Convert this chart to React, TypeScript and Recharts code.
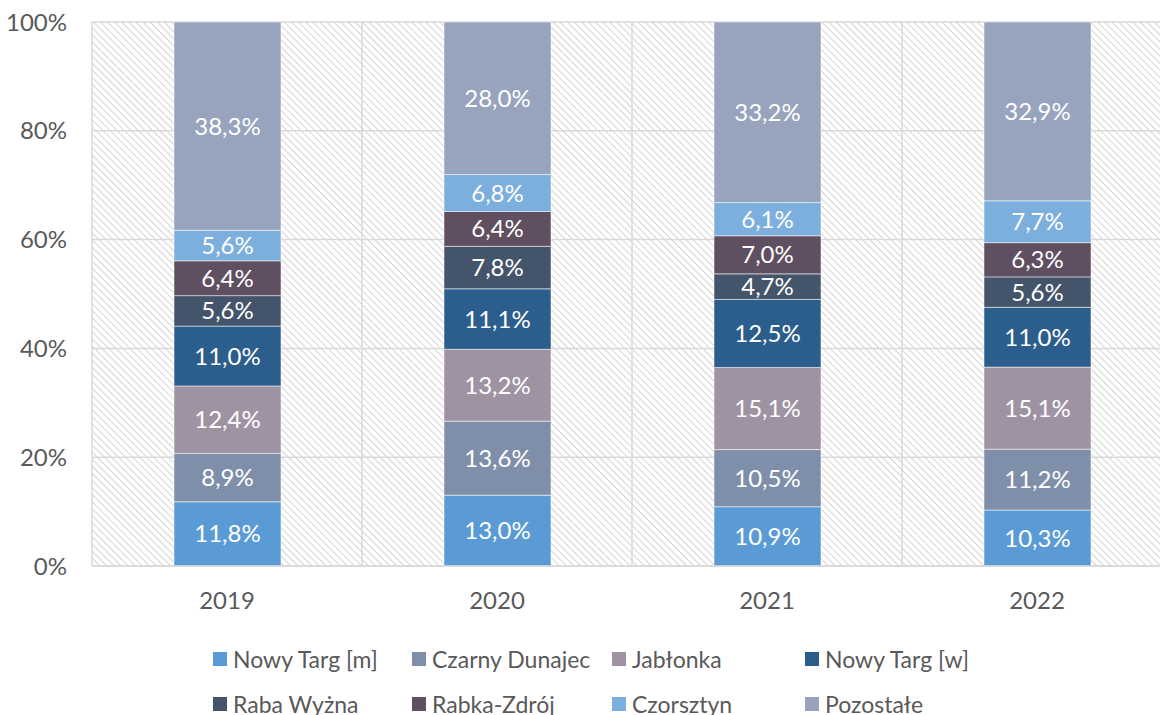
import { BarChart, Bar, XAxis, YAxis, CartesianGrid, Legend, LabelList } from "recharts";

const years = ["2019", "2020", "2021", "2022"];

const nowyTargM = [11.8, 13.0, 10.9, 10.3];
const czarnyDunajec = [8.9, 13.6, 10.5, 11.2];
const jablonka = [12.4, 13.2, 15.1, 15.1];
const nowyTargW = [11.0, 11.1, 12.5, 11.0];
const rabaWyzna = [5.6, 7.8, 4.7, 5.6];
const rabkaZdroj = [6.4, 6.4, 7.0, 6.3];
const czorsztyn = [5.6, 6.8, 6.1, 7.7];
const pozostale = [38.3, 28.0, 33.2, 32.9];

const yTicks = [0, 0.2, 0.4, 0.6, 0.8, 1];

const series = [
  { key: "nowyTargM", name: "Nowy Targ [m]", color: "#5b9bd5", values: nowyTargM },
  { key: "czarnyDunajec", name: "Czarny Dunajec", color: "#7f8fa9", values: czarnyDunajec },
  { key: "jablonka", name: "Jabłonka", color: "#9f93a3", values: jablonka },
  { key: "nowyTargW", name: "Nowy Targ [w]", color: "#2b5e8c", values: nowyTargW },
  { key: "rabaWyzna", name: "Raba Wyżna", color: "#44546a", values: rabaWyzna },
  { key: "rabkaZdroj", name: "Rabka-Zdrój", color: "#5f4f61", values: rabkaZdroj },
  { key: "czorsztyn", name: "Czorsztyn", color: "#7cafdd", values: czorsztyn },
  { key: "pozostale", name: "Pozostałe", color: "#98a4bd", values: pozostale },
];

const data = years.map((year, i) => {
  const row: Record<string, string | number> = { year };
  series.forEach((s) => (row[s.key] = s.values[i]));
  return row;
});

const font = "Lato, 'Open Sans', sans-serif";
const fmt = (v: unknown) => Number(v).toFixed(1).replace(".", ",") + "%";

function LegendGrid() {
  return (
    <div
      style={{
        display: "grid",
        gridTemplateColumns: "199px 200px 193px 200px",
        rowGap: 17,
        paddingTop: 20,
        paddingLeft: 213,
        fontFamily: font,
        fontSize: 23,
        color: "#595959",
      }}
    >
      {series.map((s) => (
        <div key={s.key} style={{ display: "flex", alignItems: "center", height: 28, whiteSpace: "nowrap" }}>
          <span style={{ width: 14, height: 14, background: s.color, marginRight: 6, display: "inline-block" }} />
          {s.name}
        </div>
      ))}
    </div>
  );
}

export default function App() {
  return (
    <div style={{ position: "absolute", left: 0, top: 0, width: 1160, height: 715, overflow: "hidden", background: "#fff" }}>
      <BarChart
        width={1180}
        height={715}
        data={data}
        stackOffset="expand"
        barSize={107}
        margin={{ top: 22, right: 8, bottom: 0, left: 0 }}
      >
        <defs>
          <pattern id="hatch" width="5" height="5" patternUnits="userSpaceOnUse" patternTransform="rotate(-45)">
            <rect width="5" height="5" fill="#ffffff" />
            <line x1="0" y1="0" x2="0" y2="5" stroke="#d4d4d4" strokeWidth="2" />
          </pattern>
        </defs>
        <CartesianGrid
          fill="url(#hatch)"
          stroke="#d9d9d9"
          strokeWidth={1.5}
          verticalCoordinatesGenerator={({ offset }: any) =>
            [0, 1, 2, 3, 4].map((i) => offset.left + (offset.width / 4) * i)
          }
        />
        <XAxis
          dataKey="year"
          height={59}
          tickLine={false}
          axisLine={{ stroke: "#d9d9d9", strokeWidth: 1.5 }}
          tick={{ fontSize: 24, fill: "#595959", fontFamily: font }}
          tickMargin={20}
        />
        <YAxis
          width={92}
          ticks={yTicks}
          domain={[0, 1]}
          tickLine={false}
          axisLine={false}
          tickSize={0}
          tickMargin={25}
          tick={{ fontSize: 24, fill: "#595959", fontFamily: font }}
          tickFormatter={(v: number) => `${Math.round(v * 100)}%`}
        />
        <Legend verticalAlign="bottom" height={90} content={() => <LegendGrid />} wrapperStyle={{ left: 0, width: 1180 }} />
        {series.map((s) => (
          <Bar
            key={s.key}
            dataKey={s.key}
            name={s.name}
            stackId="a"
            fill={s.color}
            stroke="#ffffff"
            strokeOpacity={0.5}
            strokeWidth={1}
            isAnimationActive={false}
          >
            <LabelList
              dataKey={s.key}
              position="center"
              formatter={fmt}
              fill="#ffffff"
              style={{ fontSize: 24, fontFamily: font }}
            />
          </Bar>
        ))}
      </BarChart>
    </div>
  );
}
